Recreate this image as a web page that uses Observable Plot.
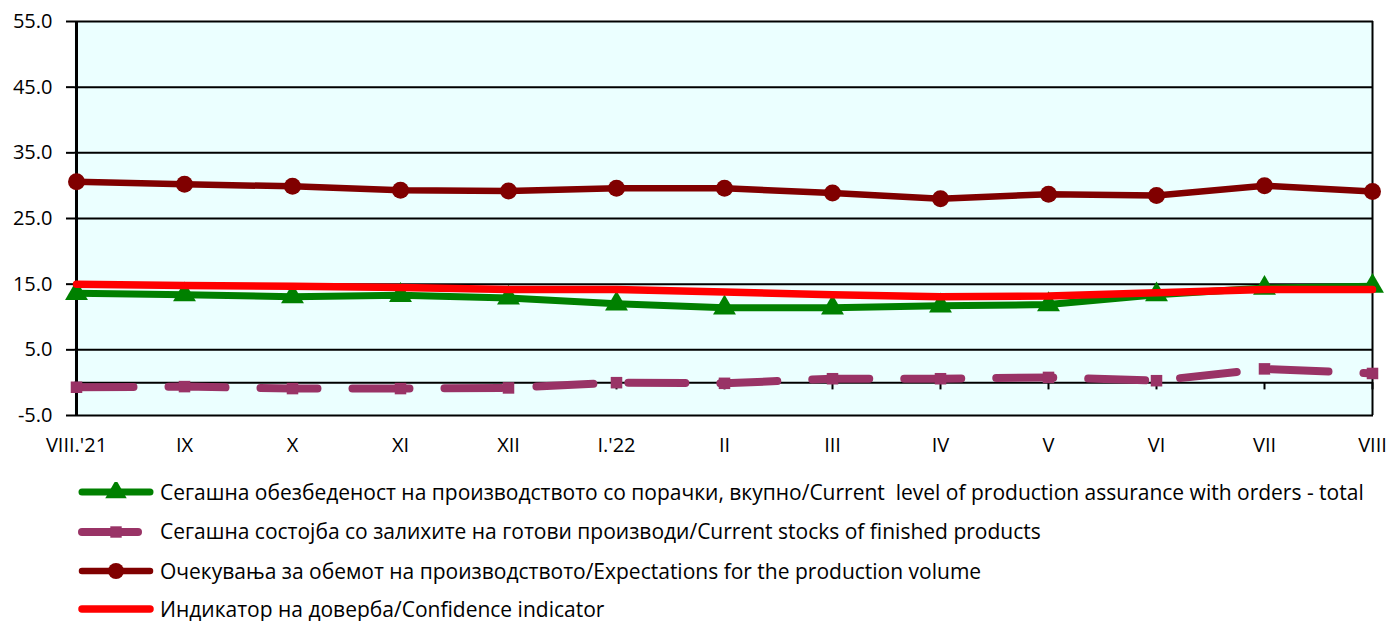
<!DOCTYPE html>
<html>
<head>
<meta charset="utf-8">
<script src="https://cdn.jsdelivr.net/npm/d3@7"></script>
<script src="https://cdn.jsdelivr.net/npm/@observablehq/plot@0.6"></script>
<style>
  html, body { margin: 0; padding: 0; background: #fff; overflow: hidden; }
  #chart svg { display: block; overflow: visible; }
  #legend { position: absolute; left: 0; top: 0; font-family: "Open Sans", sans-serif; font-size: 21px; color: #000; }
  .row { position: absolute; left: 0; display: flex; align-items: center; height: 22px; white-space: nowrap; }
  .row span { line-height: 1; }
  .row svg { margin-left: 76px; margin-right: 6px; flex: none; }
</style>
</head>
<body>
<div id="chart"></div>
<div id="legend"></div>
<script>
const months = ["VIII.'21","IX","X","XI","XII","I.'22","II","III","IV","V","VI","VII","VIII"];
const assurance    = [13.6,13.4,13.1,13.3,12.9,12.0,11.4,11.4,11.7,11.9,13.4,14.4,14.7];
const stocks       = [-0.7,-0.6,-0.9,-0.9,-0.8,0.0,-0.1,0.6,0.6,0.8,0.3,2.1,1.4];
const expectations = [30.6,30.2,29.9,29.3,29.2,29.6,29.6,28.9,28.0,28.7,28.5,30.0,29.1];
const confidence   = [15.0,14.8,14.7,14.5,14.2,14.2,13.8,13.4,13.1,13.2,13.7,14.2,14.2];
const yTicks = [-5, 5, 15, 25, 35, 45, 55];

const seriesNames = [
  "Сегашна обезбеденост на производството со порачки, вкупно/Current\u00a0 level of production assurance with orders - total",
  "Сегашна состојба со залихите на готови производи/Current stocks of finished products",
  "Очекувања за обемот на производството/Expectations for the production volume",
  "Индикатор на доверба/Confidence indicator"
];
const colors = ["#008000", "#993366", "#800000", "#FF0000"];

const rows = (vals) => months.map((m, i) => ({m, v: vals[i]}));
const dA = rows(assurance), dS = rows(stocks), dE = rows(expectations), dC = rows(confidence);

const chart = Plot.plot({
  width: 1390,
  height: 460,
  marginLeft: 74,
  marginRight: 17,
  marginTop: 21,
  marginBottom: 45,
  style: {fontFamily: "'Open Sans', sans-serif", fontSize: "20px", color: "#000", background: "transparent"},
  x: {type: "point", domain: months, padding: 0},
  y: {domain: [-5, 55]},
  marks: [
    Plot.frame({fill: "#EBFFFF", stroke: null}),
    Plot.gridY(yTicks, {stroke: "#000", strokeOpacity: 1, strokeWidth: 2}),
    Plot.ruleY([0], {stroke: "#000", strokeWidth: 2}),
    Plot.ruleX(months, {x: d => d, y1: 0, y2: -1.1, stroke: "#000", strokeWidth: 2}),
    Plot.ruleX([months[0]], {stroke: "#000", strokeWidth: 3}),
    Plot.ruleX([months[months.length - 1]], {stroke: "#000", strokeWidth: 2}),
    Plot.axisY({ticks: yTicks, tickFormat: d => d.toFixed(1), tickSize: 8, tickPadding: 14, fontSize: 20, stroke: "#000", strokeWidth: 2, label: null}),
    Plot.axisX({tickSize: 0, tickPadding: 22, fontSize: 20, label: null}),
    // assurance (green, triangles)
    Plot.line(dA, {x: "m", y: "v", stroke: colors[0], strokeWidth: 7}),
    Plot.dot(dA, {x: "m", y: "v", symbol: "triangle", r: 8.5, fill: colors[0], stroke: null}),
    // stocks (purple dashed, squares)
    Plot.line(dS, {x: "m", y: "v", stroke: colors[1], strokeWidth: 8, strokeDasharray: "57,35", strokeLinecap: "round"}),
    Plot.dot(dS, {x: "m", y: "v", symbol: "square", r: 6.5, fill: colors[1], stroke: null}),
    // expectations (dark red, circles)
    Plot.line(dE, {x: "m", y: "v", stroke: colors[2], strokeWidth: 6.5}),
    Plot.dot(dE, {x: "m", y: "v", symbol: "circle", r: 8.5, fill: colors[2], stroke: null}),
    // confidence (red)
    Plot.line(dC, {x: "m", y: "v", stroke: colors[3], strokeWidth: 7.5})
  ]
});
document.getElementById("chart").appendChild(chart);

// Legend
const legend = d3.select("#legend");
const sym = ["triangle", "square", "circle", null];
const sw = [7, 8, 6.5, 7.5];
const centers = [492, 531.5, 571, 609];
seriesNames.forEach((name, i) => {
  const row = legend.append("div").attr("class", "row").style("top", (centers[i] - 11) + "px");
  const s = row.append("svg").attr("width", 78).attr("height", 20);
  s.append("line").attr("x1", 6).attr("x2", i === 1 ? 62 : 74).attr("y1", 10).attr("y2", 10)
    .attr("stroke", colors[i]).attr("stroke-width", sw[i]).attr("stroke-linecap", "round");
  if (sym[i]) {
    const symType = {triangle: d3.symbolTriangle, square: d3.symbolSquare, circle: d3.symbolCircle}[sym[i]];
    s.append("path").attr("d", d3.symbol(symType, i === 1 ? 130 : 200)()).attr("transform", "translate(40,10)").attr("fill", colors[i]);
  }
  row.append("span").text(name).style("white-space", "pre");
});
</script>
</body>
</html>
